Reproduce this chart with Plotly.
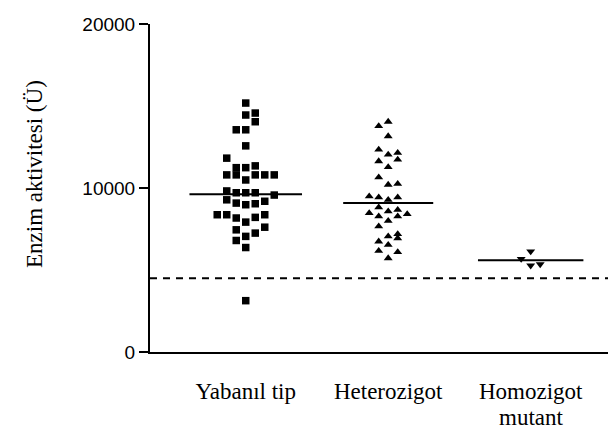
import plotly.graph_objects as go

# ---------------- data ----------------
categories = ["Yabanıl tip", "Heterozigot", "Homozigot"]
category_second_line = ["", "", "mutant"]

yabanil_values = [15180, 14450, 14570, 14040, 13550, 13550, 12570, 11820, 11240, 11240,
                  11350, 10800, 10800, 10490, 10800, 10800, 10800, 9820, 9710, 9710,
                  9710, 9570, 9280, 9080, 8980, 9040, 9190, 8370, 8370, 8170,
                  7920, 8210, 8370, 7450, 7050, 7250, 7610, 6800, 6370, 3130]
yabanil_slots = [0, 0, 1, 1, -1, 0, 0, -2, -1, 0,
                 1, -2, -1, 0, 1, 2, 3, -2, -1, 0,
                 1, 3, -2, -1, 0, 1, 2, -3, -2, -1,
                 0, 1, 2, -1, 0, 1, 2, -1, 0, 0]

hetero_values = [14040, 13770, 13160, 12340, 12040, 12140, 11730, 11630, 11270, 10650,
                 10200, 10250, 9490, 9430, 9280, 9430, 8470, 8820, 8270, 8580,
                 8000, 8670, 8270, 8410, 7660, 7050, 7190, 6940, 6740, 6530,
                 6170, 6090, 5720]
hetero_slots = [0, -1, 0, -1, 0, 1, 1, -1, 0, -1,
                0, 1, -2, -1, 0, 1, -2, -1, -1, 0,
                0, 1, 1, 2, -1, 0, 1, 1, -1, 0,
                -1, 1, 0]

homo_values = [5680, 6130, 5270, 5350]
homo_slots = [-1, 0, 0, 1]

group_means = [9615, 9083, 5600]
cutoff = 4500

y_ticks = [0, 10000, 20000]
y_title = "Enzim aktivitesi (Ü)"

# ---------------- styling constants ----------------
slot_step = 0.0667
mean_halfwidths = [0.395, 0.316, 0.37]
x_range = [-0.672, 2.655]
serif = "Liberation Serif, Times New Roman, serif"
sans = "Liberation Sans, Arial, sans-serif"

fig = go.Figure()

groups = [
    (yabanil_values, yabanil_slots, "square", 7.5),
    (hetero_values, hetero_slots, "triangle-up", 7.8),
    (homo_values, homo_slots, "triangle-down", 7.8),
]
for gi, (vals, slots, sym, size) in enumerate(groups):
    fig.add_trace(go.Scatter(
        x=[gi + s * slot_step for s in slots], y=vals, mode="markers",
        marker=dict(symbol=sym, size=size, color="black", line=dict(width=0)),
        showlegend=False, hoverinfo="y"))

for gi, m in enumerate(group_means):
    hw = mean_halfwidths[gi]
    fig.add_trace(go.Scatter(x=[gi - hw, gi + hw], y=[m, m], mode="lines",
                             line=dict(color="black", width=2),
                             showlegend=False, hoverinfo="skip"))

fig.add_trace(go.Scatter(x=[x_range[0], 2.585], y=[cutoff, cutoff], mode="lines",
                         line=dict(color="black", width=2, dash="7px,6px"),
                         showlegend=False, hoverinfo="skip"))

annotations = [dict(text=y_title, textangle=-90, xref="paper", yref="paper",
                    x=(26 - 142) / 474, y=(344 - 166) / 328, xanchor="center", yanchor="middle",
                    showarrow=False, font=dict(family=serif, size=23, color="black"))]
for gi, t in enumerate(category_second_line):
    if t:
        annotations.append(dict(text=t, xref="x", yref="paper", x=gi, y=(344 - 409) / 328,
                                xanchor="center", yanchor="middle", showarrow=False,
                                font=dict(family=serif, size=23, color="black")))

fig.update_layout(
    width=616, height=430,
    margin=dict(l=142, r=0, t=16, b=86),
    paper_bgcolor="white", plot_bgcolor="white",
    xaxis=dict(range=x_range, tickvals=[0, 1, 2], ticktext=categories,
               showline=True, linecolor="black", linewidth=2, ticks="",
               showgrid=False, zeroline=False,
               tickfont=dict(family=serif, size=23, color="black"),
               ticklabelstandoff=17),
    yaxis=dict(range=[0, 20000], tickvals=y_ticks, ticktext=[str(v) for v in y_ticks],
               showline=True, linecolor="black", linewidth=2,
               ticks="outside", ticklen=9, tickwidth=2, tickcolor="black",
               showgrid=False, zeroline=False,
               tickfont=dict(family=sans, size=19, color="black")),
    annotations=annotations,
)

fig.write_html("out.html")
